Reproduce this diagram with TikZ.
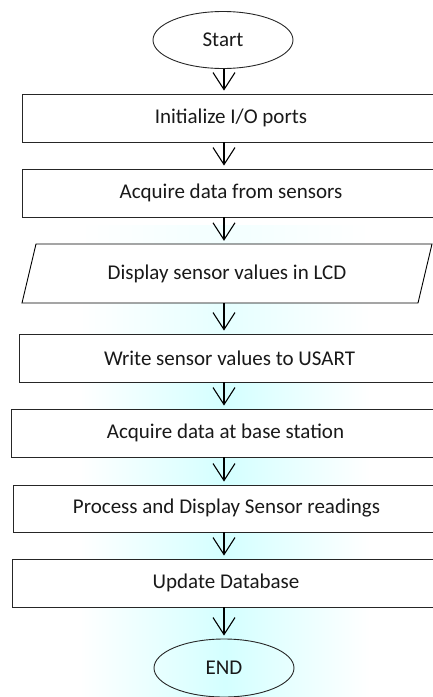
\documentclass[tikz,border=0pt]{standalone}
\usepackage{fontspec}
\setmainfont{Carlito}
\usetikzlibrary{arrows.meta,shapes.geometric}
\begin{document}
\begin{tikzpicture}[x=1pt,y=-1pt,
  txt/.style={font=\fontsize{21}{23}\selectfont, text=black!90},
  term/.style={txt, ellipse, draw=black!85, line width=0.9pt, minimum width=140pt, minimum height=57pt, inner sep=0pt},
  proc/.style={txt, rectangle, draw=black!85, fill=white, line width=0.9pt, minimum width=418pt, minimum height=48pt, inner sep=0pt},
  arr/.style={draw=black, line width=1.1pt, -{Straight Barb[length=17pt,width=22pt,line width=1.1pt]}, shorten >=3pt},
  wm/.style={draw=none, left color=white, right color=white}]
\useasboundingbox (0,0) rectangle (433,697);
\clip (0,0) rectangle (433,697);
% faint background watermark
\shade[wm, middle color=cyan!5] (80,225) rectangle (370,290);
\shade[wm, middle color=cyan!10] (80,290) rectangle (370,350);
\shade[wm, middle color=cyan!17] (80,350) rectangle (370,697);
% nodes
\node[term] (start) at (223,40) {Start};
\node[proc] (init) at (231,118) {Initialize I/O ports};
\node[proc] (acq) at (231,193) {Acquire data from sensors};
\draw[fill=white, draw=black, line width=0.9pt] (36,244) -- (432,244) -- (418,303) -- (22,303) -- cycle;
\node[txt, minimum height=59pt, minimum width=300pt, inner sep=0pt] (disp) at (227,273.5) {Display sensor values in LCD};
\node[proc, minimum width=421pt] (write) at (229.5,358) {Write sensor values to USART};
\node[proc, minimum width=429pt] (base) at (225.5,433) {Acquire data at base station};
\node[proc, minimum width=427pt, minimum height=47pt] (proc) at (226.5,508.5) {Process and Display Sensor readings};
\node[proc, minimum width=428pt] (upd) at (226,583) {Update Database};
\node[term, minimum height=58pt] (end) at (224,668) {END};
% column of arrows
\coordinate (c) at (224,0);
\draw[arr] (start.south -| c) -- (init.north -| c);
\draw[arr] (init.south -| c) -- (acq.north -| c);
\draw[arr] (acq.south -| c) -- (disp.north -| c);
\draw[arr] (disp.south -| c) -- (write.north -| c);
\draw[arr] (write.south -| c) -- (base.north -| c);
\draw[arr] (base.south -| c) -- (proc.north -| c);
\draw[arr] (proc.south -| c) -- (upd.north -| c);
\draw[arr] (upd.south -| c) -- (end.north -| c);
\end{tikzpicture}
\end{document}
